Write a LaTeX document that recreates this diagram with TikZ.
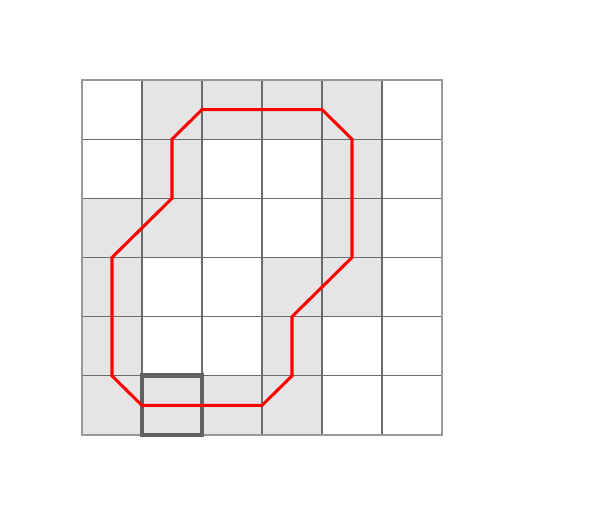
\documentclass[tikz,border=0pt]{standalone}
\begin{document}
\begin{tikzpicture}[x=0.75pt,y=-0.75pt,
  cellfill/.style={fill=black!10},
  gridline/.style={draw=black!58,line width=0.9pt},
  border/.style={draw=black!40,line width=0.9pt},
  route/.style={draw=red,line width=2.3pt,line join=miter},
  marker/.style={draw=black!62,line width=3.6pt}]
\useasboundingbox (0,0) rectangle (611,518);
\begin{scope}[shift={(82,80)},x=45pt,y=-44.375pt]
  % shaded cells (col,row)
  \foreach \c/\r in {1/0,2/0,3/0,4/0, 1/1,4/1, 0/2,1/2,4/2, 0/3,3/3,4/3, 0/4,3/4, 0/5,1/5,2/5,3/5}
    \path[cellfill] (\c,\r) rectangle ++(1,1);
  % grid
  \foreach \i in {1,...,5} {
    \draw[gridline] (\i,0) -- (\i,6);
    \draw[gridline] (0,\i) -- (6,\i);
  }
  \draw[border] (0,0) rectangle (6,6);
  % marked cell
  \draw[marker] (1,5) rectangle (2,6);
  % route
  \draw[route] (2,0.5) -- (4,0.5) -- (4.5,1) -- (4.5,3) -- (3.5,4) -- (3.5,5)
    -- (3,5.5) -- (1,5.5) -- (0.5,5) -- (0.5,3) -- (1,2.5) -- (1.5,2)
    -- (1.5,1) -- cycle;
\end{scope}
\end{tikzpicture}
\end{document}
